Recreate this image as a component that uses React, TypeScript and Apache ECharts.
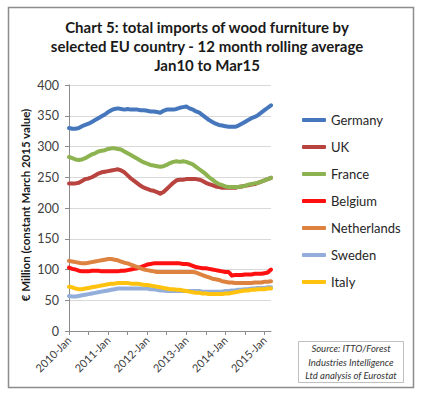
import React, { useEffect, useRef } from "react";
import * as echarts from "echarts";

const years = [2010, 2011, 2012, 2013, 2014, 2015];
const monthNames = ["Jan", "Feb", "Mar", "Apr", "May", "Jun", "Jul", "Aug", "Sep", "Oct", "Nov", "Dec"];
const categories: string[] = [];
years.forEach((y) => monthNames.forEach((m) => categories.push(`${y}-${m}`)));
categories.splice(63);

const seriesNames = ["Germany", "UK", "France", "Belgium", "Netherlands", "Sweden", "Italy"];
const seriesColors = ["#4677BC", "#B8433F", "#8DB350", "#FF1010", "#DE8240", "#93AEDA", "#FFC20E"];

const germany = [330, 329, 329, 330, 333, 335, 337, 340, 343, 346, 349, 352, 356, 359, 361, 362, 361, 360, 361, 360, 360, 360, 359, 359, 358, 357, 357, 356, 355, 358, 360, 360, 360, 361, 363, 364, 365, 362, 360, 357, 355, 351, 347, 343, 340, 337, 335, 334, 333, 332, 332, 332, 334, 337, 340, 343, 346, 348, 351, 355, 359, 363, 367];
const uk = [240, 240, 240, 241, 244, 247, 248, 250, 253, 256, 258, 259, 260, 261, 262, 263, 261, 258, 253, 248, 244, 240, 236, 233, 231, 229, 228, 226, 223, 226, 231, 236, 241, 245, 246, 246, 247, 247, 247, 247, 246, 244, 241, 239, 237, 235, 234, 233, 233, 233, 233, 233, 234, 235, 236, 237, 238, 239, 241, 243, 245, 247, 249];
const france = [283, 281, 279, 278, 279, 281, 284, 287, 289, 292, 293, 294, 296, 297, 297, 296, 295, 292, 289, 286, 283, 280, 277, 274, 272, 270, 269, 268, 267, 268, 270, 273, 275, 276, 275, 276, 275, 273, 271, 267, 263, 259, 255, 250, 246, 242, 239, 237, 235, 234, 234, 234, 234, 235, 236, 238, 239, 240, 241, 243, 245, 247, 249];
const belgium = [103, 101, 100, 98, 97, 97, 97, 98, 98, 98, 97, 97, 97, 97, 97, 97, 98, 98, 99, 100, 101, 102, 104, 106, 108, 109, 110, 110, 110, 110, 110, 110, 110, 110, 110, 109, 109, 108, 106, 104, 103, 102, 102, 101, 100, 99, 98, 97, 96, 96, 90, 91, 91, 91, 92, 92, 92, 93, 93, 93, 94, 95, 100];
const netherlands = [114, 113, 112, 111, 110, 110, 111, 112, 113, 114, 115, 116, 117, 117, 116, 115, 113, 111, 110, 108, 106, 104, 102, 100, 99, 98, 97, 96, 96, 96, 96, 96, 96, 96, 96, 96, 96, 96, 96, 95, 93, 91, 89, 87, 85, 84, 83, 81, 80, 79, 79, 78, 78, 78, 78, 78, 78, 79, 79, 79, 80, 80, 81];
const sweden = [57, 56, 56, 57, 58, 59, 60, 61, 62, 63, 64, 65, 66, 67, 68, 69, 69, 69, 69, 69, 69, 69, 69, 69, 69, 68, 68, 67, 66, 66, 65, 65, 65, 65, 65, 65, 65, 65, 65, 65, 65, 64, 64, 64, 64, 64, 64, 64, 65, 65, 66, 66, 67, 67, 68, 68, 69, 69, 70, 70, 70, 71, 71];
const italy = [72, 71, 69, 68, 68, 69, 70, 71, 72, 73, 74, 75, 76, 77, 77, 78, 78, 78, 78, 77, 77, 77, 76, 75, 75, 74, 73, 72, 71, 70, 69, 68, 68, 67, 67, 66, 65, 64, 63, 62, 62, 61, 61, 60, 60, 60, 60, 60, 61, 61, 62, 63, 64, 65, 66, 66, 67, 67, 68, 68, 68, 69, 69];

const seriesData = [germany, uk, france, belgium, netherlands, sweden, italy];

const titleLines = [
  "Chart 5: total imports of wood furniture by",
  "selected EU country - 12 month rolling average",
  "Jan10 to Mar15",
];
const yAxisTitle = "€ Million (constant March 2015 value)";
const sourceLines = ["Source: ITTO/Forest", "Industries Intelligence", "Ltd analysis of Eurostat"];

const FONT = "Lato, 'Open Sans', sans-serif";

export default function App() {
  const ref = useRef<HTMLDivElement>(null);
  useEffect(() => {
    if (!ref.current) return;
    const chart = echarts.init(ref.current, null, { renderer: "svg" });
    chart.setOption({
      animation: false,
      backgroundColor: "#ffffff",
      textStyle: { fontFamily: FONT },
      grid: { left: 69, top: 85, right: 157, bottom: 64, containLabel: false },
      legend: {
        orient: "vertical",
        left: 297,
        top: 107,
        itemWidth: 24,
        itemHeight: 4,
        itemGap: 11,
        icon: "roundRect",
        textStyle: { fontFamily: FONT, fontSize: 13, color: "#262626", lineHeight: 16 },
        data: seriesNames,
      },
      xAxis: {
        type: "category",
        data: categories,
        boundaryGap: false,
        axisLine: { show: true, lineStyle: { color: "#8C8C8C", width: 1 } },
        axisTick: {
          show: true,
          length: 4,
          interval: (i: number) => i % 6 === 0,
          lineStyle: { color: "#8C8C8C" },
        },
        axisLabel: {
          interval: (i: number) => i % 12 === 0,
          rotate: 45,
          fontSize: 11,
          color: "#404040",
          margin: 7,
          fontFamily: FONT,
        },
        splitLine: { show: false },
      },
      yAxis: {
        type: "value",
        min: 0,
        max: 400,
        interval: 50,
        axisLine: { show: true, lineStyle: { color: "#8C8C8C", width: 1 } },
        axisTick: { show: true, length: 4, lineStyle: { color: "#8C8C8C" } },
        axisLabel: { fontSize: 12.5, color: "#404040", margin: 10, fontFamily: FONT },
        splitLine: { show: true, lineStyle: { color: "#D9D9D9", width: 1 } },
      },
      series: seriesNames.map((name, i) => ({
        name,
        type: "line",
        data: seriesData[i],
        showSymbol: false,
        symbol: "none",
        lineStyle: { width: 4, color: seriesColors[i], cap: "round", join: "round" },
        itemStyle: { color: seriesColors[i] },
      })),
      graphic: [
        {
          type: "rect",
          shape: { x: 8.5, y: 7.5, width: 405, height: 380 },
          style: { fill: "none", stroke: "#8C8C8C", lineWidth: 1.5 },
          silent: true,
        },
        {
          type: "text",
          x: 207,
          y: 17,
          style: {
            text: titleLines.join("\n"),
            textAlign: "center",
            textVerticalAlign: "top",
            font: `bold 15px ${FONT}`,
            lineHeight: 19,
            fill: "#1a1a1a",
          },
        },
        {
          type: "text",
          x: 25,
          y: 205,
          rotation: Math.PI / 2,
          style: {
            text: yAxisTitle,
            textAlign: "center",
            textVerticalAlign: "middle",
            font: `bold 11.5px ${FONT}`,
            fill: "#1a1a1a",
          },
        },
        {
          type: "rect",
          shape: { x: 298.5, y: 341.5, width: 105, height: 41 },
          style: { fill: "#ffffff", stroke: "#BFBFBF", lineWidth: 1 },
        },
        {
          type: "text",
          x: 351,
          y: 362,
          style: {
            text: sourceLines.join("\n"),
            textAlign: "center",
            textVerticalAlign: "middle",
            font: `italic 9.5px ${FONT}`,
            lineHeight: 13.5,
            fill: "#333333",
          },
        },
      ],
    });
    return () => chart.dispose();
  }, []);
  return (
    <div
      ref={ref}
      style={{ position: "fixed", left: 0, top: 0, width: 428, height: 395 }}
    />
  );
}
